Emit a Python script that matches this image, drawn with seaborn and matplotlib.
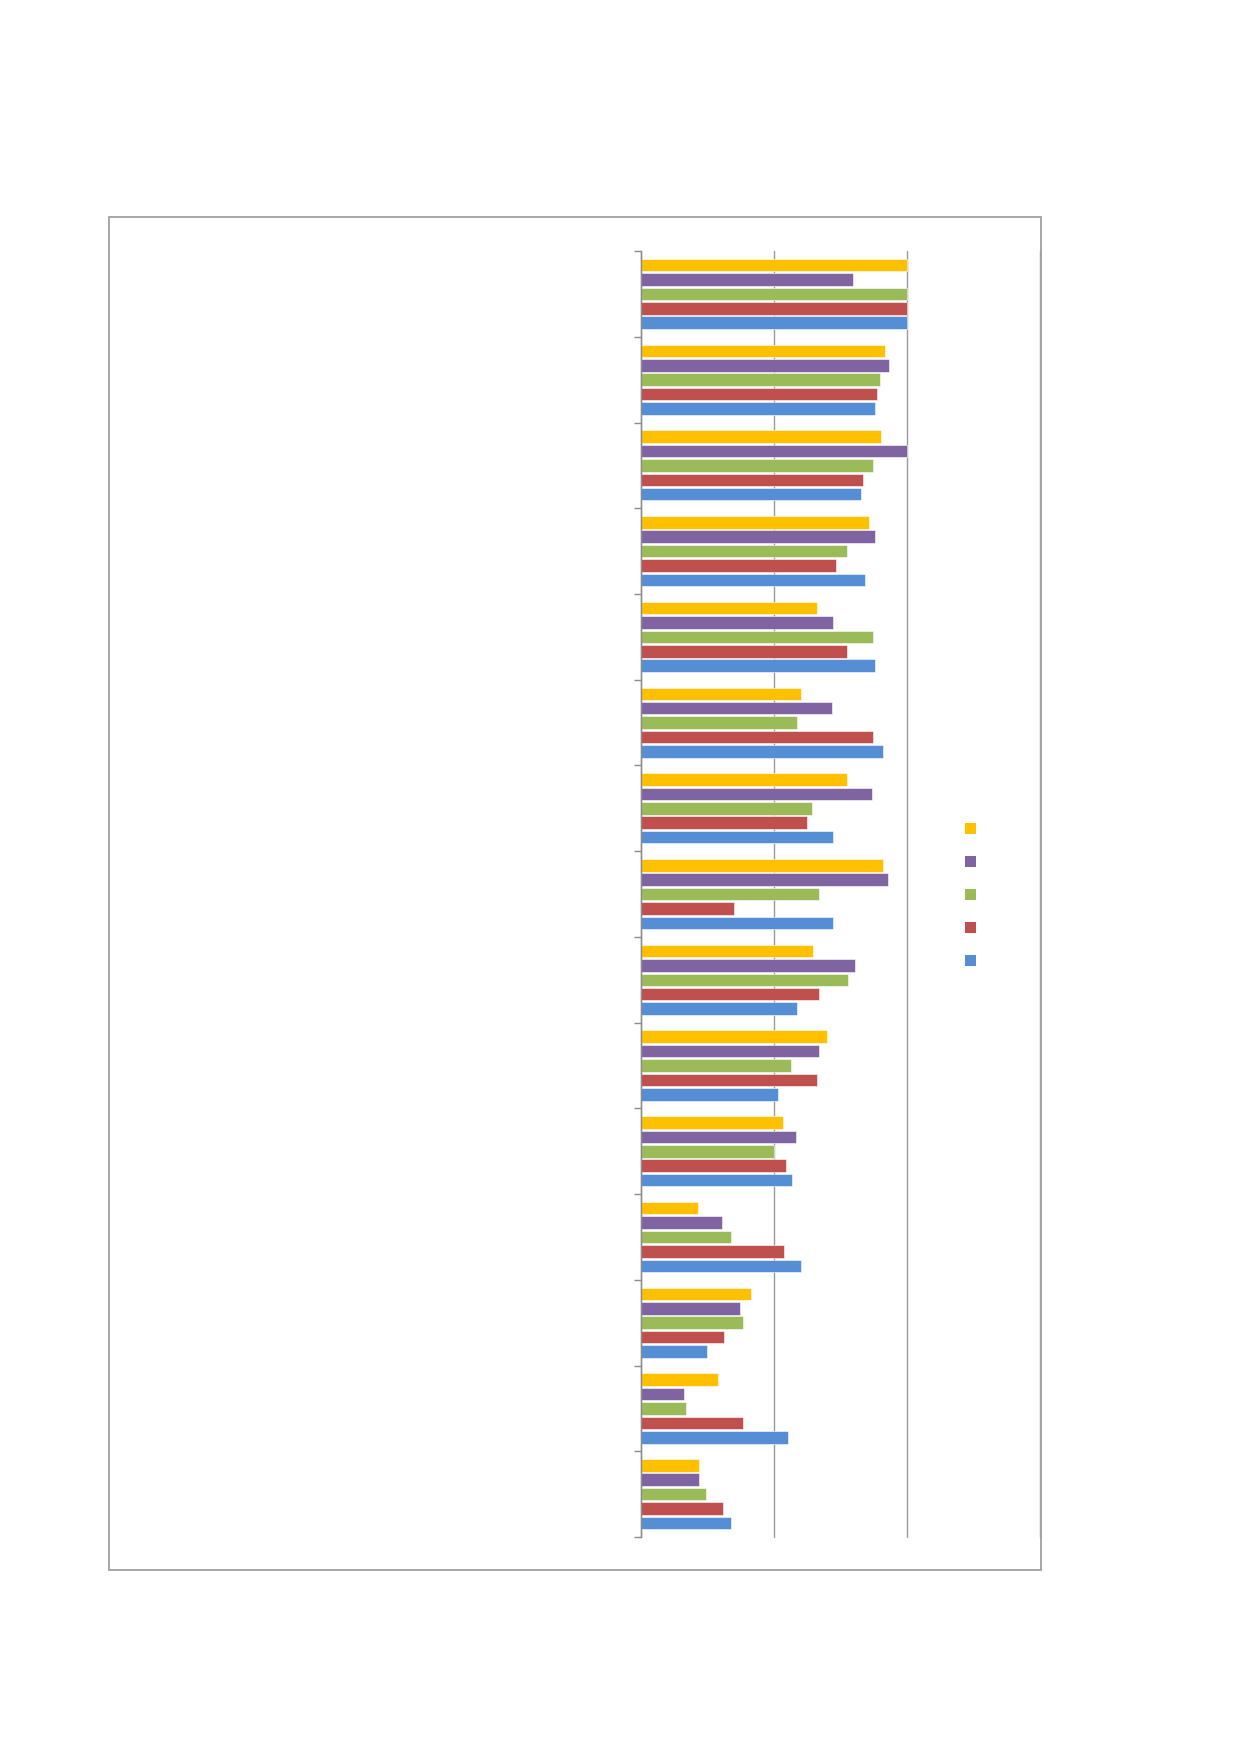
import numpy as np
import pandas as pd
import matplotlib
matplotlib.use("Agg")
import matplotlib.pyplot as plt
from matplotlib.patches import Rectangle, Patch
import seaborn as sns

# categories (no visible labels in the source chart)
categories = [str(i) for i in range(1, 16)]

# series values (top bar in each group = yellow)
yellow = [2.00, 1.84, 1.81, 1.72, 1.33, 1.21, 1.55, 1.82, 1.30, 1.40, 1.07, 0.43, 0.83, 0.58, 0.44]
purple = [1.60, 1.87, 2.00, 1.76, 1.45, 1.44, 1.74, 1.86, 1.61, 1.34, 1.17, 0.61, 0.75, 0.33, 0.44]
green = [2.00, 1.80, 1.75, 1.55, 1.75, 1.18, 1.29, 1.34, 1.56, 1.13, 1.00, 0.68, 0.77, 0.34, 0.49]
red = [2.00, 1.78, 1.67, 1.47, 1.55, 1.75, 1.25, 0.70, 1.34, 1.33, 1.09, 1.08, 0.63, 0.77, 0.62]
blue = [2.00, 1.76, 1.66, 1.69, 1.76, 1.82, 1.45, 1.45, 1.18, 1.03, 1.14, 1.21, 0.50, 1.11, 0.68]

series_names = ["Series 5", "Series 4", "Series 3", "Series 2", "Series 1"]
series_values = [yellow, purple, green, red, blue]
colors = ["#FFC000", "#8064A2", "#9BBB59", "#C0504D", "#558ED5"]

rows = []
for name, vals in zip(series_names, series_values):
    for cat, v in zip(categories, vals):
        rows.append({"category": cat, "series": name, "value": v})
df = pd.DataFrame(rows)

sns.set_style("white")

fig = plt.figure(figsize=(12.39, 17.52), dpi=100)
ax = fig.add_axes([0.517, 0.1227, 0.322, 0.734])

sns.barplot(data=df, x="value", y="category", hue="series",
            hue_order=series_names, order=categories,
            palette=colors, saturation=1, orient="h", width=0.84, gap=0.13,
            edgecolor="white", linewidth=0.4, legend=False, ax=ax)

ax.set_xlim(0, 3)
ax.set_ylim(len(categories) - 0.5, -0.5)
ax.set_xticks([0, 1, 2, 3])
ax.set_xticklabels([])
ax.tick_params(axis="x", length=0)
ax.grid(axis="x", color="#9A9A9A", linewidth=1.0)
for gl in ax.get_xgridlines():
    gl.set_clip_on(False)
ax.set_axisbelow(True)

# tick marks at category boundaries, pointing out
ax.set_yticks([])
ax.set_yticks(np.arange(-0.5, len(categories), 1.0), minor=True)
ax.tick_params(axis="y", which="minor", length=5, width=1.0, color="#8C8C8C", direction="out", left=True)
ax.set_xlabel("")
ax.set_ylabel("")

for side in ["top", "right", "bottom"]:
    ax.spines[side].set_visible(False)
ax.spines["left"].set_color("#8C8C8C")
ax.spines["left"].set_linewidth(1.0)

# outer chart frame
fig.add_artist(Rectangle((0.088, 0.104), 0.752, 0.772, transform=fig.transFigure,
                         fill=False, edgecolor="#A0A0A0", linewidth=1.3))

handles = [Patch(facecolor=c, edgecolor="none") for c in colors]
fig.legend(handles, [" "] * len(handles), loc="center left",
           bbox_to_anchor=(0.773, 0.489), frameon=False, fontsize=10,
           handlelength=0.85, handleheight=0.85, handletextpad=0.2,
           borderpad=0, labelspacing=1.37)

fig.savefig("out.png", dpi=100, facecolor="white")
